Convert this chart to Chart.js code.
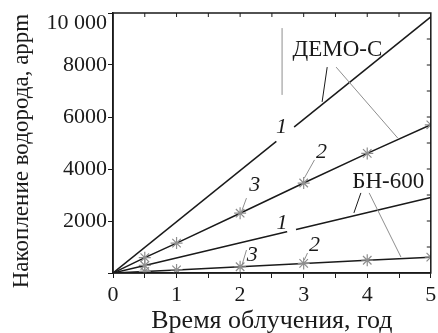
<!DOCTYPE html>
<html>
<head>
<meta charset="utf-8">
<script src="https://cdn.jsdelivr.net/npm/chart.js@4/dist/chart.umd.min.js"></script>
<style>
  html, body { margin: 0; padding: 0; background: #fff; }
  #wrap { width: 438px; height: 333px; }
</style>
</head>
<body>
<div id="wrap"><canvas id="c"></canvas></div>
<script>
// Hydrogen accumulation (appm) versus irradiation time (years)
const lineYears   = [0, 5];
const markerYears = [0, 0.5, 1, 2, 3, 4, 5];
const bnYears1    = [0, 0.5, 5];

const demoCurve1  = [0, 9850];
const demoCurve23 = [0, 590, 1150, 2300, 3460, 4600, 5700];
const bnCurve1    = [0, 290, 2900];
const bnCurve23   = [0, 60, 120, 240, 370, 490, 610];

const xTickLabels = ['0', '1', '2', '3', '4', '5'];
const yTickValues = [2000, 4000, 6000, 8000, 10000];
const yTickLabels = ['2000', '4000', '6000', '8000', ['', '10 000']];

const yTitle = 'Накопление водорода, appm';
const xTitle = 'Время облучения, год';

const SERIF = "'Liberation Serif', 'Times New Roman', serif";
const INK = '#1a1a1a';
const GREY = '#8e8e8e';

const toPoints = (xs, ys) => xs.map((x, i) => ({ x, y: ys[i] }));

// callouts: text placed in data coordinates
const callouts = [
  { text: 'ДЕМО-С', x: 3.53, y: 8580, italic: false },
  { text: 'БН-600', x: 4.33, y: 3520, italic: false },
  { text: '1', x: 2.65, y: 5620, italic: true },
  { text: '2', x: 3.28, y: 4650, italic: true },
  { text: '3', x: 2.23, y: 3380, italic: true },
  { text: '1', x: 2.66, y: 1920, italic: true },
  { text: '2', x: 3.17, y: 1080, italic: true },
  { text: '3', x: 2.19, y: 690, italic: true }
];
// leader lines from labels to curves
const leaders = [
  { from: [3.37, 7920], to: [3.29, 6580], color: INK },
  { from: [3.51, 7920], to: [4.48, 5190], color: GREY },
  { from: [3.90, 3080], to: [3.79, 2310], color: INK },
  { from: [4.03, 3080], to: [4.53, 615], color: GREY },
  { from: [3.17, 4350], to: [3.01, 3650], color: GREY },
  { from: [2.10, 2880], to: [2.02, 2350], color: GREY },
  { from: [3.06, 770], to: [3.01, 500], color: GREY },
  { from: [2.10, 885], to: [2.02, 230], color: GREY },
  { from: [2.66, 9420], to: [2.66, 6850], color: GREY }
];
// breaks in curves where the curve numbers sit
const breaks = [
  { dataset: 0, from: 2.57, to: 2.85 },
  { dataset: 2, from: 2.74, to: 2.88 }
];

function valueAt(data, t) {
  for (let i = 0; i < data.length - 1; i++) {
    const a = data[i], b = data[i + 1];
    if (t >= a.x && t <= b.x) return a.y + (b.y - a.y) * (t - a.x) / (b.x - a.x);
  }
  return data[data.length - 1].y;
}

const decorPlugin = {
  id: 'decor',
  afterDatasetsDraw(chart) {
    const { ctx, chartArea: ca, scales: { x, y } } = chart;
    const P = (dx, dy) => [x.getPixelForValue(dx), y.getPixelForValue(dy)];
    ctx.save();
    // breaks
    ctx.strokeStyle = '#fff';
    ctx.lineWidth = 5;
    ctx.lineCap = 'butt';
    breaks.forEach(b => {
      const d = chart.data.datasets[b.dataset].data;
      const [x0, y0] = P(b.from, valueAt(d, b.from));
      const [x1, y1] = P(b.to, valueAt(d, b.to));
      ctx.beginPath(); ctx.moveTo(x0, y0); ctx.lineTo(x1, y1); ctx.stroke();
    });
    // leaders
    ctx.lineWidth = 1;
    leaders.forEach(l => {
      const [x0, y0] = P(l.from[0], l.from[1]);
      const [x1, y1] = P(l.to[0], l.to[1]);
      ctx.strokeStyle = l.color;
      ctx.beginPath(); ctx.moveTo(x0, y0); ctx.lineTo(x1, y1); ctx.stroke();
    });
    // labels
    ctx.fillStyle = INK;
    ctx.textAlign = 'center';
    ctx.textBaseline = 'middle';
    callouts.forEach(c => {
      ctx.font = (c.italic ? 'italic 22px ' : '23px ') + SERIF;
      const [cx, cy] = P(c.x, c.y);
      ctx.fillText(c.text, cx, cy);
    });
    // frame with inward ticks on top and right
    ctx.strokeStyle = INK;
    ctx.lineWidth = 1.5;
    ctx.strokeRect(ca.left, ca.top, ca.right - ca.left, ca.bottom - ca.top);
    ctx.lineWidth = 1;
    for (let v = 0.5; v < 5; v += 0.5) {
      const px = x.getPixelForValue(v);
      ctx.beginPath(); ctx.moveTo(px, ca.top); ctx.lineTo(px, ca.top + 4); ctx.stroke();
    }
    for (let v = 1000; v < 10000; v += 1000) {
      const py = y.getPixelForValue(v);
      ctx.beginPath(); ctx.moveTo(ca.right, py); ctx.lineTo(ca.right - 4, py); ctx.stroke();
    }
    // vertical axis title, slightly below the middle of the plot
    ctx.translate(22, (ca.top + ca.bottom) / 2 + 8);
    ctx.rotate(-Math.PI / 2);
    ctx.font = '23px ' + SERIF;
    ctx.fillText(yTitle, 0, 0);
    ctx.restore();
  }
};

new Chart(document.getElementById('c'), {
  type: 'line',
  data: {
    datasets: [
      {
        data: toPoints(lineYears, demoCurve1),
        borderColor: INK, borderWidth: 1.5, pointRadius: 0
      },
      {
        data: toPoints(markerYears, demoCurve23),
        borderColor: INK, borderWidth: 1.5,
        pointStyle: 'star', pointRadius: markerYears.map(v => v === 0 ? 0 : 6),
        pointBorderColor: GREY, pointBorderWidth: 1.2
      },
      {
        data: toPoints(bnYears1, bnCurve1),
        borderColor: INK, borderWidth: 1.5,
        pointStyle: 'star', pointRadius: bnYears1.map(v => v === 0.5 ? 6 : 0),
        pointBorderColor: GREY, pointBorderWidth: 1.2
      },
      {
        data: toPoints(markerYears, bnCurve23),
        borderColor: INK, borderWidth: 1.5,
        pointStyle: 'star', pointRadius: markerYears.map(v => v === 0 ? 0 : 6),
        pointBorderColor: GREY, pointBorderWidth: 1.2
      }
    ]
  },
  options: {
    responsive: true,
    maintainAspectRatio: false,
    animation: false,
    layout: { padding: { top: 13, right: 6, left: 0, bottom: 0 } },
    plugins: { legend: { display: false }, tooltip: { enabled: false } },
    elements: { line: { tension: 0 } },
    scales: {
      x: {
        type: 'linear', min: 0, max: 5,
        afterFit: s => { s.height = 60; s.paddingLeft = 0; s.paddingRight = 0; },
        ticks: {
          stepSize: 0.5, padding: 4, color: INK,
          font: { family: SERIF, size: 22 },
          maxRotation: 0, autoSkip: false,
          callback: v => Number.isInteger(v) ? xTickLabels[v] : ''
        },
        grid: { drawOnChartArea: false, tickLength: 5, color: INK },
        border: { color: INK, width: 1.5 },
        title: {
          display: true, text: xTitle, color: INK,
          font: { family: SERIF, size: 26, lineHeight: 1 }, padding: { top: 0, bottom: -1 }
        }
      },
      y: {
        min: 0, max: 10000,
        afterFit: s => { s.width = 113; s.paddingTop = 0; s.paddingBottom = 0; },
        ticks: {
          stepSize: 1000, padding: 1, color: INK,
          font: { family: SERIF, size: 22, lineHeight: 0.9 },
          callback: v => { const i = yTickValues.indexOf(v); return i >= 0 ? yTickLabels[i] : ''; }
        },
        grid: { drawOnChartArea: false, tickLength: 5, color: INK },
        border: { color: INK, width: 1.5 },
        title: { display: false }
      }
    }
  },
  plugins: [decorPlugin]
});
</script>
</body>
</html>
